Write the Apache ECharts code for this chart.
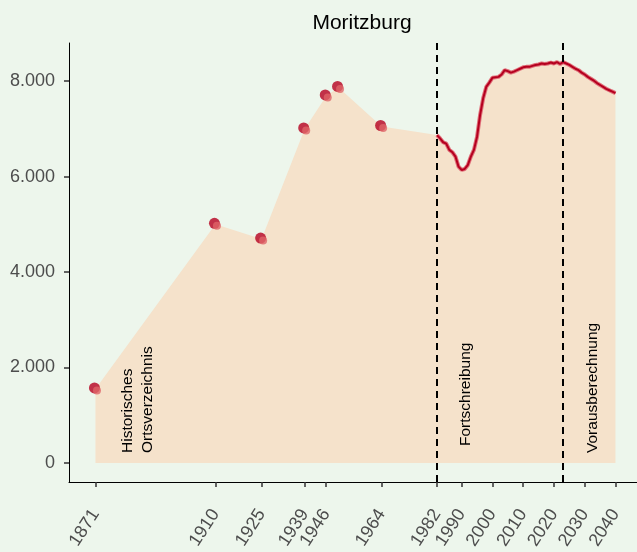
<!DOCTYPE html>
<html>
<head>
<meta charset="utf-8">
<script src="https://cdn.jsdelivr.net/npm/echarts@6/dist/echarts.min.js"></script>
<style>
  html, body { margin: 0; padding: 0; background: #EDF6EC; }
  #chart { width: 637px; height: 552px; }
</style>
</head>
<body>
<div id="chart"></div>
<script>
// Historisches Ortsverzeichnis (Punkte)
const histYears = [1871, 1910, 1925, 1939, 1946, 1950, 1964];
const histValues = [1550, 5000, 4690, 7000, 7690, 7870, 7050];

// Fortschreibung + Vorausberechnung (jährlich)
const annualYears = [];
for (let y = 1982; y <= 2040; y++) annualYears.push(y);
const annualValues = [
  6870, 6800, 6720, 6690, 6560, 6510, 6420, 6210, 6140, 6160,  // 1982-1991
  6240, 6420, 6560, 6830, 7290, 7640, 7880, 7970, 8070, 8080,  // 1992-2001
  8090, 8140, 8230, 8210, 8180, 8200, 8230, 8260, 8290, 8300,  // 2002-2011
  8300, 8320, 8340, 8350, 8370, 8360, 8370, 8390, 8370, 8400,  // 2012-2021
  8360, 8400, 8370, 8340, 8300, 8260, 8230, 8180, 8140, 8090,  // 2022-2031
  8050, 8010, 7960, 7920, 7880, 7840, 7810, 7780, 7750         // 2032-2040
];

const xTicks = [1871, 1910, 1925, 1939, 1946, 1964, 1982, 1990, 2000, 2010, 2020, 2030, 2040];
const yTicks = [0, 2000, 4000, 6000, 8000];
const breakYears = [1982, 2022.8];

const fmt = v => String(v).replace(/\B(?=(\d{3})+(?!\d))/g, '.');

const pts = (xs, ys) => xs.map((x, i) => [x, ys[i]]);
const areaData = pts(histYears, histValues).concat(pts(annualYears, annualValues));

let chart = echarts.init(document.getElementById('chart'));

// senkrechte Beschriftung
const vText = (x, y, text) => ({
  type: 'text',
  x: x,
  y: y,
  rotation: Math.PI / 2,
  z: 100,
  style: {
    text: text,
    font: '15.5px "Liberation Sans", Arial, sans-serif',
    fill: '#000',
    textAlign: 'left',
    textVerticalAlign: 'middle'
  }
});

let option = {
  backgroundColor: '#EDF6EC',
  animation: false,
  textStyle: { fontFamily: 'Liberation Sans, Arial, sans-serif' },
  title: {
    text: 'Moritzburg',
    left: 357,
    top: 8,
    textAlign: 'center',
    textStyle: { fontSize: 21, fontWeight: 'normal', color: '#000' }
  },
  grid: { left: 69, right: 0, top: 43, bottom: 70 },
  xAxis: {
    type: 'value',
    min: 1862.4,
    max: 2047,
    splitLine: { show: false },
    axisLine: { onZero: false, lineStyle: { color: '#000', width: 1 } },
    axisTick: { customValues: xTicks, length: 5, lineStyle: { color: '#333', width: 1.5 } },
    axisLabel: {
      customValues: xTicks,
      rotate: 57,
      margin: 29,
      fontSize: 18,
      color: '#4D4D4D',
      formatter: v => String(v)
    }
  },
  yAxis: {
    type: 'value',
    min: -400,
    max: 8800,
    splitLine: { show: false },
    axisLine: { show: true, onZero: false, lineStyle: { color: '#000', width: 1 } },
    axisTick: { show: true, customValues: yTicks, length: 5, lineStyle: { color: '#333', width: 1.5 } },
    axisLabel: {
      customValues: yTicks,
      margin: 14,
      fontSize: 18,
      color: '#4D4D4D',
      formatter: v => fmt(v)
    }
  },
  series: [
    {
      type: 'line',
      data: areaData,
      showSymbol: false,
      lineStyle: { width: 0 },
      areaStyle: { color: '#F5E2CB', opacity: 1 },
      z: 1,
      markLine: {
        silent: true,
        symbol: 'none',
        label: { show: false },
        lineStyle: { color: '#000', width: 2, type: [7, 5] },
        data: breakYears.map(x => ({ xAxis: x }))
      }
    },
    {
      type: 'line',
      data: pts(annualYears, annualValues),
      showSymbol: false,
      lineStyle: { color: '#E0707A', width: 4 },
      z: 2
    },
    {
      type: 'line',
      data: pts(annualYears, annualValues),
      showSymbol: false,
      lineStyle: { color: '#B5001F', width: 2 },
      z: 3
    },
    {
      type: 'scatter',
      data: pts(histYears, histValues),
      symbolSize: 11,
      symbolOffset: [-1, -1],
      itemStyle: { color: '#B5001F' },
      z: 4
    },
    {
      type: 'scatter',
      data: pts(histYears, histValues),
      symbolSize: 8,
      symbolOffset: [1.5, 1.5],
      itemStyle: { color: '#DE6468' },
      z: 5
    }
  ],
  graphic: {
    elements: [
      vText(128, 453, 'Historisches'),
      vText(148, 453, 'Ortsverzeichnis'),
      vText(466, 446, 'Fortschreibung'),
      vText(593, 453, 'Vorausberechnung')
    ]
  }
};

chart.setOption(option);
</script>
</body>
</html>
